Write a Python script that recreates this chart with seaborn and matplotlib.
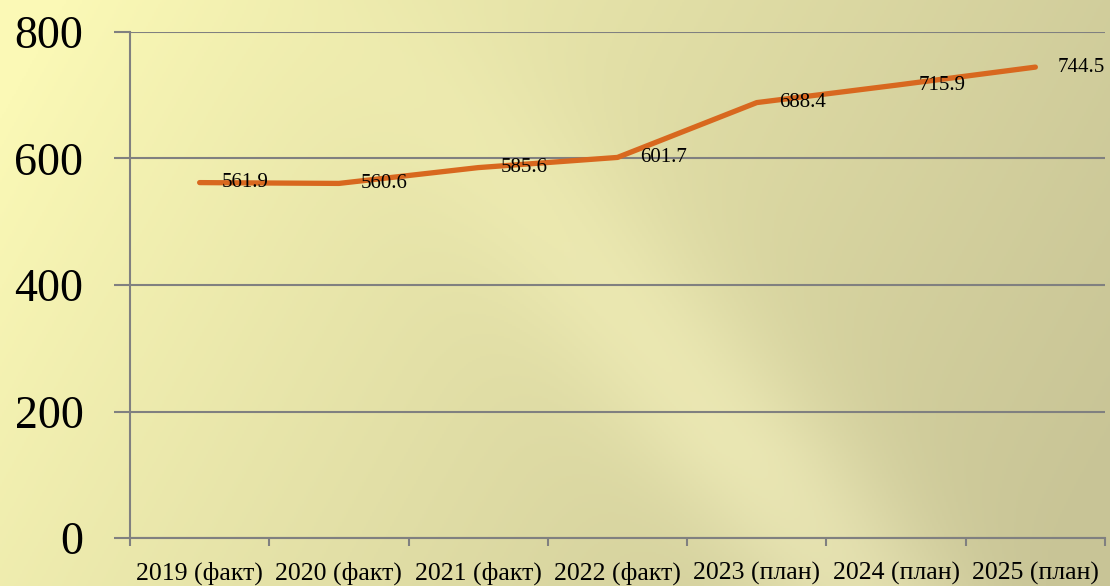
import numpy as np
import pandas as pd
import matplotlib
matplotlib.use("Agg")
from matplotlib import pyplot as plt
import seaborn as sns

# data
years = ['2019 (факт)', '2020 (факт)', '2021 (факт)', '2022 (факт)',
         '2023 (план)', '2024 (план)', '2025 (план)']
values = [561.9, 560.6, 585.6, 601.7, 688.4, 715.9, 744.5]
y_ticks = [0, 200, 400, 600, 800]

df = pd.DataFrame({'year': years, 'value': values})

sns.set_style('white')
plt.rcParams['font.family'] = ['Liberation Serif', 'DejaVu Serif']

fig = plt.figure(figsize=(11.1, 5.86), dpi=100)

# gradient background
H, W = 293, 555
yy, xx = np.mgrid[0:H, 0:W]
u = xx / W
v = yy / H
t = np.clip(0.85 * u + 0.25 * v - 0.05, 0, 1) ** 0.9
light = np.array([251, 249, 182]) / 255
dark = np.array([200, 196, 150]) / 255
img = light[None, None, :] * (1 - t[..., None]) + dark[None, None, :] * t[..., None]
# soft light band running diagonally
d = u - 0.42 * v - 0.35
band = np.exp(-(d / 0.1) ** 2) * np.clip(v * 1.3, 0, 1)
img = img + band[..., None] * 0.08
img = np.clip(img, 0, 1)
bg = fig.add_axes([0, 0, 1, 1])
bg.imshow(img, aspect='auto', extent=[0, 1, 0, 1], origin='upper')
bg.axis('off')

ax = fig.add_axes([130 / 1110, 48 / 586, 975 / 1110, 506 / 586])
ax.set_facecolor('none')

sns.lineplot(data=df, x='year', y='value', ax=ax, color='#D8681F',
             linewidth=3.8, sort=False, solid_capstyle='round')

for i, val in enumerate(values):
    ax.annotate(f'{val}', (i, val), xytext=(16, 0), textcoords='offset points',
                ha='left', va='center', fontsize=15, color='black')

ax.set_xlim(-0.5, len(years) - 0.5)
ax.set_ylim(0, 800)
ax.set_yticks(y_ticks)
ax.set_yticklabels([str(v) for v in y_ticks], fontsize=33, color='black')
ax.set_xticks(np.arange(-0.5, len(years), 1.0))
ax.set_xticklabels([])
ax.set_xticks(range(len(years)), minor=True)
ax.set_xticklabels(years, minor=True, fontsize=18.5, color='black')
ax.tick_params(axis='x', which='minor', bottom=False, length=0, pad=17)
ax.tick_params(axis='x', which='major', bottom=True, length=6, width=1.5,
               color='#808080', direction='out')
ax.tick_params(axis='y', left=True, length=11.5, width=1.5, color='#808080',
               pad=22, direction='out')

ax.yaxis.grid(True, color='#808080', linewidth=1.5)
ax.xaxis.grid(False)
for s in ['top', 'right']:
    ax.spines[s].set_visible(False)
for s in ['left', 'bottom']:
    ax.spines[s].set_color('#808080')
    ax.spines[s].set_linewidth(1.5)
ax.set_xlabel('')
ax.set_ylabel('')

fig.savefig('out.png', dpi=100)
